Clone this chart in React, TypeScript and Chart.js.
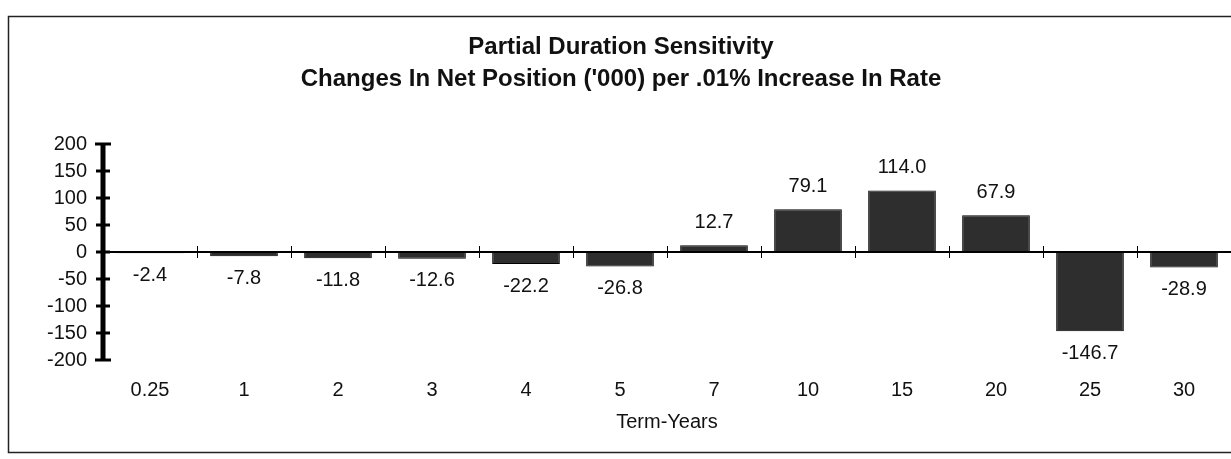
import React, { useEffect, useRef } from 'react';
import { Chart, registerables } from 'chart.js';

Chart.register(...registerables);

// ---- data ----
const categories = ['0.25', '1', '2', '3', '4', '5', '7', '10', '15', '20', '25', '30'];
const values = [-2.4, -7.8, -11.8, -12.6, -22.2, -26.8, 12.7, 79.1, 114.0, 67.9, -146.7, -28.9];
const yTicks = [-200, -150, -100, -50, 0, 50, 100, 150, 200];
const titleLines = ['Partial Duration Sensitivity', "Changes In Net Position ('000) per .01% Increase In Rate"];
const xAxisTitle = 'Term-Years';

const FONT = '"Liberation Sans", Arial, Helvetica, sans-serif';
const INK = '#111111';

const decorPlugin = {
  id: 'decor',
  beforeDraw(chart: any) {
    const { ctx, chartArea } = chart;
    ctx.save();
    ctx.fillStyle = '#ffffff';
    ctx.fillRect(0, 0, chart.width, chart.height);
    // outer frame
    ctx.strokeStyle = '#222222';
    ctx.lineWidth = 1.5;
    ctx.strokeRect(8.5, 16.5, chart.width + 20, 436);
    // titles
    ctx.fillStyle = INK;
    ctx.textAlign = 'center';
    ctx.textBaseline = 'middle';
    ctx.font = `bold 24px ${FONT}`;
    ctx.fillText(titleLines[0], 621, 47);
    ctx.fillText(titleLines[1], 621, 79);
    // x axis title
    ctx.font = `20px ${FONT}`;
    ctx.fillText(xAxisTitle, (chartArea.left + chartArea.right) / 2, 422);
    ctx.restore();
  },
  afterDatasetsDraw(chart: any) {
    const { ctx, chartArea } = chart;
    const xs = chart.scales.x;
    const ys = chart.scales.y;
    const zeroY = ys.getPixelForValue(0);
    ctx.save();
    // zero line
    ctx.strokeStyle = '#000';
    ctx.lineWidth = 2;
    ctx.beginPath();
    ctx.moveTo(chartArea.left, zeroY);
    ctx.lineTo(chart.width, zeroY);
    ctx.stroke();
    // category boundary ticks on zero line
    ctx.lineWidth = 1;
    const n = categories.length;
    for (let i = 1; i <= n; i++) {
      const a = xs.getPixelForTick(i - 1);
      const bx = i < n ? (a + xs.getPixelForTick(i)) / 2 : a + (a - xs.getPixelForTick(i - 2)) / 2;
      ctx.beginPath();
      ctx.moveTo(Math.round(bx) + 0.5, zeroY - 6);
      ctx.lineTo(Math.round(bx) + 0.5, zeroY + 6);
      ctx.stroke();
    }
    // y axis line
    const ax = chartArea.left;
    ctx.lineWidth = 5;
    ctx.beginPath();
    ctx.moveTo(ax, ys.getPixelForValue(yTicks[yTicks.length - 1]));
    ctx.lineTo(ax, ys.getPixelForValue(yTicks[0]));
    ctx.stroke();
    // y ticks (crossing)
    ctx.lineWidth = 3;
    yTicks.forEach((v, idx) => {
      const y = ys.getPixelForValue(v);
      const half = idx === 0 || idx === yTicks.length - 1 ? 8 : 7;
      ctx.beginPath();
      ctx.moveTo(ax - half, y);
      ctx.lineTo(ax + half, y);
      ctx.stroke();
    });
    // data labels
    ctx.fillStyle = INK;
    ctx.font = `20px ${FONT}`;
    ctx.textAlign = 'center';
    ctx.textBaseline = 'middle';
    const meta = chart.getDatasetMeta(0);
    meta.data.forEach((el: any, i: number) => {
      const v = values[i];
      const ly = v >= 0 ? el.y - 23 : el.y + 22;
      ctx.fillText(v.toFixed(1), el.x, ly);
    });
    ctx.restore();
  },
};

export default function App() {
  const ref = useRef<HTMLCanvasElement | null>(null);

  useEffect(() => {
    document.body.style.margin = '0';
    const canvas = ref.current;
    if (!canvas) return;
    const chart = new Chart(canvas, {
      type: 'bar',
      data: {
        labels: categories,
        datasets: [
          {
            data: values,
            backgroundColor: '#2e2e2e',
            borderColor: '#000000',
            borderWidth: 1,
            categoryPercentage: 0.72,
            barPercentage: 1,
          },
        ],
      },
      options: {
        responsive: false,
        animation: false,
        devicePixelRatio: 1,
        layout: { padding: { top: 144, right: 0, bottom: 0, left: 0 } },
        plugins: {
          legend: { display: false },
          tooltip: { enabled: false },
          title: { display: false },
        },
        scales: {
          x: {
            type: 'category',
            grid: { display: false, drawTicks: false },
            border: { display: false },
            ticks: {
              color: INK,
              font: { family: FONT, size: 20 },
              padding: 18,
              maxRotation: 0,
              autoSkip: false,
            },
            afterFit: (s: any) => {
              s.height = 99;
            },
          },
          y: {
            min: -200,
            max: 200,
            afterBuildTicks: (s: any) => {
              s.ticks = yTicks.map((v) => ({ value: v }));
            },
            grid: { display: false, drawTicks: false },
            border: { display: false },
            ticks: {
              color: INK,
              font: { family: FONT, size: 20 },
              padding: 16,
            },
            afterFit: (s: any) => {
              s.width = 103;
            },
          },
        },
      },
      plugins: [decorPlugin],
    });
    return () => chart.destroy();
  }, []);

  return (
    <div style={{ width: 1231, height: 459 }}>
      <canvas ref={ref} width={1231} height={459} style={{ display: 'block' }} />
    </div>
  );
}
